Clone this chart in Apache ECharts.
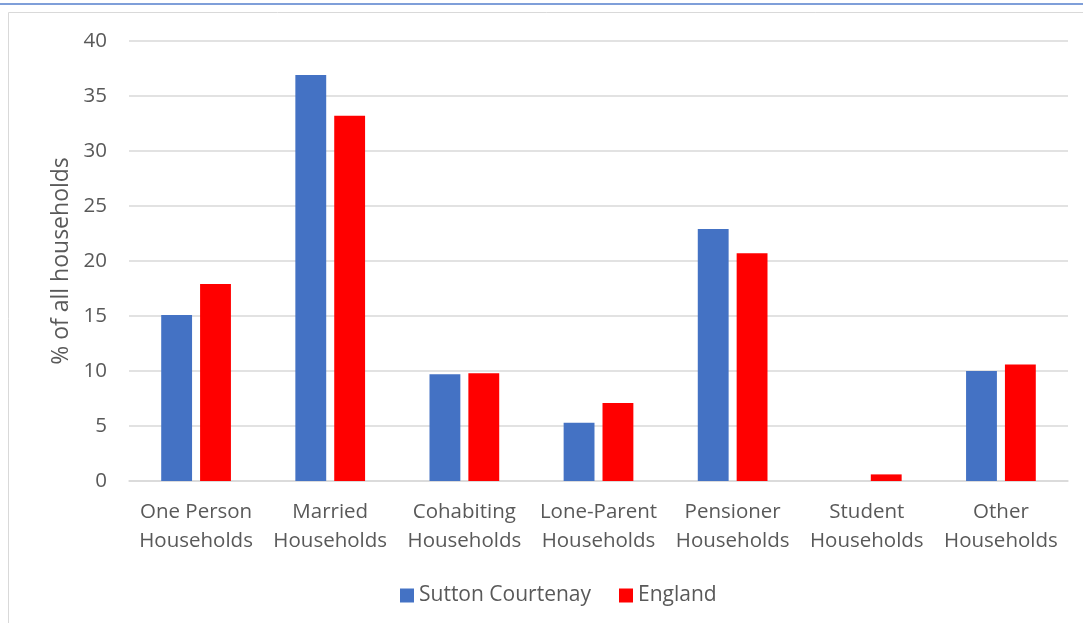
<!DOCTYPE html>
<html>
<head>
<meta charset="utf-8">
<script src="https://cdn.jsdelivr.net/npm/echarts@6/dist/echarts.min.js"></script>
<style>
  html, body { margin: 0; padding: 0; background: #fff; }
  #chart { width: 1083px; height: 623px; }
</style>
</head>
<body>
<div id="chart"></div>
<script>
// household types
var categories = ['One Person\nHouseholds', 'Married\nHouseholds', 'Cohabiting\nHouseholds',
  'Lone-Parent\nHouseholds', 'Pensioner\nHouseholds', 'Student\nHouseholds', 'Other\nHouseholds'];
var suttonValues = [15.1, 36.9, 9.7, 5.3, 22.9, 0, 10.0];
var englandValues = [17.9, 33.2, 9.8, 7.1, 20.7, 0.6, 10.6];
var yTicks = [0, 5, 10, 15, 20, 25, 30, 35, 40];

var font = '"Open Sans", Lato, sans-serif';
var chart = echarts.init(document.getElementById('chart'));

chart.setOption({
  animation: false,
  textStyle: { fontFamily: font },
  graphic: [
    { type: 'line', shape: { x1: 0, y1: 4, x2: 1083, y2: 4 },
      style: { stroke: '#7f9fd9', lineWidth: 2 }, silent: true },
    { type: 'rect', shape: { x: 8.5, y: 12.5, width: 1090, height: 620 },
      style: { fill: 'none', stroke: '#d9d9d9', lineWidth: 1 }, silent: true }
  ],
  grid: { left: 129, right: 15, top: 41, bottom: 142 },
  legend: {
    bottom: 12,
    left: 395,
    itemWidth: 14,
    itemHeight: 14,
    itemGap: 28,
    icon: 'rect',
    textStyle: { fontSize: 21, color: '#595959', fontFamily: font }
  },
  xAxis: {
    type: 'category',
    data: categories,
    axisTick: { show: false },
    axisLine: { lineStyle: { color: '#d9d9d9', width: 1.5 } },
    axisLabel: { color: '#595959', fontSize: 20.5, lineHeight: 29, margin: 17, interval: 0 }
  },
  yAxis: {
    type: 'value',
    min: 0, max: 40, interval: 5,
    name: '% of all households',
    nameLocation: 'middle',
    nameGap: 56,
    nameTextStyle: { color: '#595959', fontSize: 23 },
    axisLabel: { color: '#595959', fontSize: 20.5, margin: 22,
      formatter: function (v) { return yTicks.indexOf(v) >= 0 ? v : ''; } },
    splitLine: { lineStyle: { color: '#d9d9d9', width: 1.5 } }
  },
  series: [
    { name: 'Sutton Courtenay', type: 'bar', data: suttonValues,
      barWidth: '23%', barGap: '26%', itemStyle: { color: '#4472c4' } },
    { name: 'England', type: 'bar', data: englandValues,
      barWidth: '23%', itemStyle: { color: '#ff0000' } }
  ]
});
</script>
</body>
</html>
